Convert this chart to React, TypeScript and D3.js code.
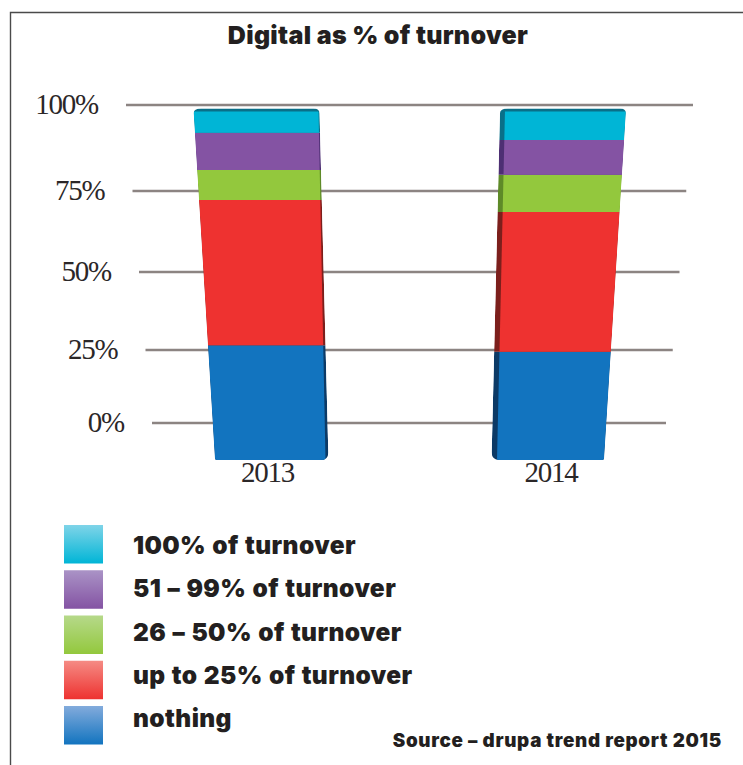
import React from "react";
import * as d3 from "d3";

const years = ["2013", "2014"];
const tickLabels = ["100%", "75%", "50%", "25%", "0%"];
const tickValues = [100, 75, 50, 25, 0];
const barFloor = -12.7;
const topLabel = "Digital as % of turnover";
const sourceLabel = "Source – drupa trend report 2015";

const seriesNames = ["100% of turnover", "51 – 99% of turnover", "26 – 50% of turnover", "up to 25% of turnover", "nothing"];
const seriesColors = ["#00b5d6", "#8453a3", "#93c83d", "#ee3230", "#1274bf"];
const seriesDark = ["#0a6f88", "#4d2f73", "#5e8a28", "#7c1f1c", "#0c3a66"];
const legendTop = ["#7fd4e8", "#aa93c6", "#b6d98a", "#f58b84", "#83abdc"];
// bottom to top: height above the floor of the bar, then each layer
const nothing = [39.2, 37.1];
const upTo25 = [45.7, 44.1];
const to50 = [8.9, 11.2];
const to99 = [10.8, 10.1];
const full = [7.1, 9.2];
const layers = [full, to99, to50, upTo25, nothing];

const W = 743, H = 765;
const y = d3.scaleLinear().domain([barFloor, 0, 25, 50, 75, 100]).range([460, 423, 350, 272, 191, 105]);
const gridLeft = d3.scaleLinear().domain([0, 100]).range([152, 126]);
const gridRight = d3.scaleLinear().domain([0, 100]).range([666, 693]);
const outerLeft = [
  d3.scaleLinear().domain([110, 460]).range([193.5, 215]),
  d3.scaleLinear().domain([110, 460]).range([500, 491.5]),
];
const outerRight = [
  d3.scaleLinear().domain([110, 460]).range([319.5, 328.5]),
  d3.scaleLinear().domain([110, 460]).range([626, 604]),
];
const faceLeft = [
  d3.scaleLinear().domain([110, 460]).range([193.5, 215]),
  d3.scaleLinear().domain([110, 460]).range([505, 497]),
];
const faceRight = [
  d3.scaleLinear().domain([110, 460]).range([318.5, 325.5]),
  d3.scaleLinear().domain([110, 460]).range([626, 604]),
];
const swatchY = d3.scaleLinear().domain([0, 4]).range([525, 706]);
const legendBaseline = d3.scaleLinear().domain([0, 4]).range([554, 727]);

const quad = (L: (v: number) => number, R: (v: number) => number, y0: number, y1: number) =>
  `M${L(y1)},${y1}L${R(y1)},${y1}L${R(y0)},${y0}L${L(y0)},${y0}Z`;

export default function App() {
  const bars = years.map((yr, i) => {
    let acc = barFloor;
    const segs = [...layers].reverse().map((vals, k) => {
      const y0 = y(acc);
      acc += vals[i];
      const y1 = y(acc);
      return { k: layers.length - 1 - k, y0, y1 };
    });
    return { yr, i, segs, top: segs[segs.length - 1].y1 };
  });
  return (
    <svg width={W} height={H} style={{ position: "absolute", left: 0, top: 0, background: "#fff" }}>
      <defs>
        {seriesNames.map((_, k) => (
          <linearGradient key={k} id={`lg${k}`} x1="0" x2="0" y1="0" y2="1">
            <stop offset="0" stopColor={legendTop[k]} />
            <stop offset="1" stopColor={seriesColors[k]} />
          </linearGradient>
        ))}
        {bars.map(b => {
          const L = outerLeft[b.i], R = outerRight[b.i];
          const t = b.top, rl = b.i === 1 ? 8 : 2, rr = b.i === 0 ? 8 : 2;
          return (
            <clipPath key={b.yr} id={`sil${b.i}`}>
              <path d={`M${L(t + 5)},${t + 5}Q${L(t)},${t} ${L(t) + 8},${t}L${R(t) - 6},${t}Q${R(t)},${t} ${R(t + 5)},${t + 5}L${R(460 - rr)},${460 - rr}Q${R(460)},460 ${R(460) - rr},460L${L(460) + rl},460Q${L(460)},460 ${L(460 - rl)},${460 - rl}Z`} />
            </clipPath>
          );
        })}
      </defs>
      <path d={`M10.5,${H}L10.5,12.5L${W},12.5`} fill="none" stroke="#4a4a4a" strokeWidth={1.4} />
      <text x={378} y={44} textAnchor="middle" fontFamily="Inter" fontWeight={900} fontSize={25} letterSpacing={0.3} fill="#231f20">{topLabel}</text>
      {tickValues.map((t, i) => (
        <g key={t}>
          <line x1={gridLeft(t)} x2={gridRight(t)} y1={y(t)} y2={y(t)} stroke="#8c8482" strokeWidth={2.4} />
          <text x={gridLeft(t) - 28} y={y(t) + 9} textAnchor="end" fontFamily="Liberation Serif" fontSize={29} letterSpacing={-1.2} fill="#2b2728">{tickLabels[i]}</text>
        </g>
      ))}
      {bars.map(b => (
        <g key={b.yr}>
          <g clipPath={`url(#sil${b.i})`}>
            {b.segs.map(s => (
              <g key={s.k}>
                <path d={quad(outerLeft[b.i], outerRight[b.i], s.y0, s.y1)} fill={seriesDark[s.k]} />
                <path d={quad(faceLeft[b.i], faceRight[b.i], s.y0, s.k === 0 ? s.y1 + 3 : s.y1)} fill={seriesColors[s.k]} />
              </g>
            ))}
          </g>
          <text x={b.i === 0 ? 267.5 : 551} y={482} textAnchor="middle" fontFamily="Liberation Serif" fontSize={29} letterSpacing={-1.2} fill="#2b2728">{b.yr}</text>
        </g>
      ))}
      {seriesNames.map((n, k) => (
        <g key={n}>
          <rect x={64} y={swatchY(k)} width={39} height={38.5} fill={`url(#lg${k})`} />
          <text x={133} y={legendBaseline(k)} fontFamily="Inter" fontWeight={900} fontSize={24.5} letterSpacing={0.4} wordSpacing={1} fill="#231f20">{n}</text>
        </g>
      ))}
      <text x={722} y={747} textAnchor="end" fontFamily="Inter" fontWeight={900} fontSize={18.8} letterSpacing={0.7} fill="#231f20">{sourceLabel}</text>
    </svg>
  );
}
